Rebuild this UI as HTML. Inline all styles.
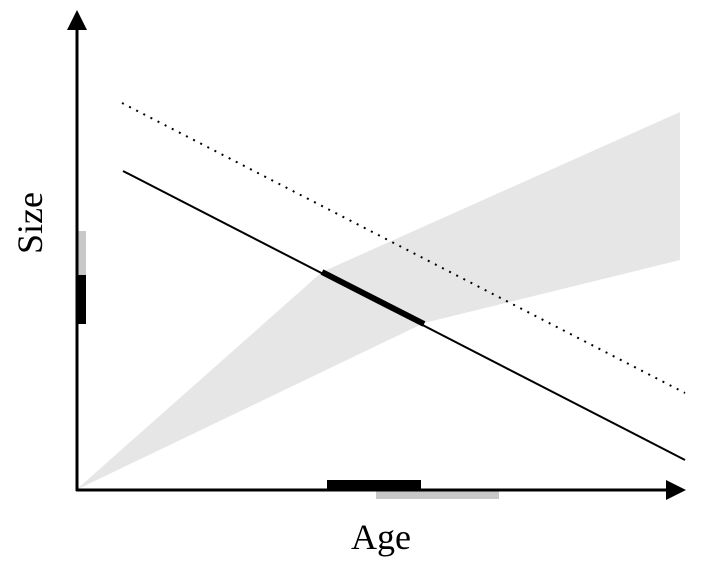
<!DOCTYPE html>
<html><head><meta charset="utf-8"><style>
html,body{margin:0;padding:0;background:#fff;width:702px;height:567px;overflow:hidden}
</style></head><body>
<svg width="702" height="567" xmlns="http://www.w3.org/2000/svg">
<polygon points="76,490 322,272 680,112 680,260 424,323" fill="#e6e6e6"/>
<line x1="122" y1="103" x2="685" y2="393" stroke="#000" stroke-width="2" stroke-dasharray="2,6"/>
<line x1="123" y1="171" x2="685" y2="460" stroke="#000" stroke-width="2"/>
<line x1="322" y1="272" x2="424" y2="324" stroke="#000" stroke-width="6"/>
<rect x="77" y="231" width="9" height="44" fill="#c8c8c8"/>
<rect x="77" y="275" width="9" height="49" fill="#000"/>
<rect x="376" y="490" width="123" height="9" fill="#c8c8c8"/>
<rect x="327" y="480" width="94" height="10" fill="#000"/>
<line x1="77" y1="28" x2="77" y2="491" stroke="#000" stroke-width="3"/>
<polygon points="77,10 67,30 87,30" fill="#000"/>
<line x1="76" y1="490" x2="670" y2="490" stroke="#000" stroke-width="3"/>
<polygon points="686,490 666,480 666,500" fill="#000"/>
<text x="381" y="549" font-family="Liberation Serif, serif" font-size="36" text-anchor="middle">Age</text>
<text transform="translate(42,223) rotate(-90)" font-family="Liberation Serif, serif" font-size="36" text-anchor="middle">Size</text>
</svg>
</body></html>
